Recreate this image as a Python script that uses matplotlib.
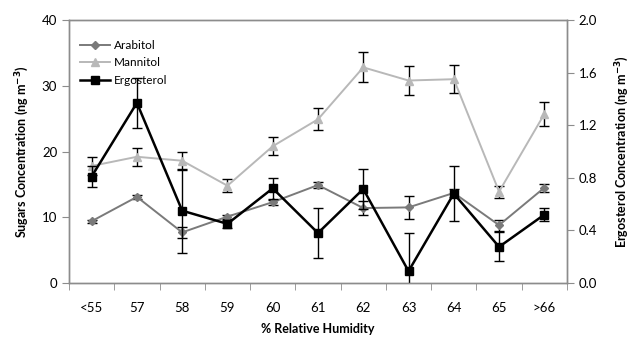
import numpy as np
import matplotlib.pyplot as plt

plt.rcParams['font.family'] = ['Lato', 'DejaVu Sans']

humidity = ['<55', '57', '58', '59', '60', '61', '62', '63', '64', '65', '>66']

# sugars, ng m-3 (left axis)
arabitol = [9.4, 13.1, 7.7, 10.1, 12.3, 14.9, 11.4, 11.5, 13.7, 8.8, 14.5]
arabitol_err = [0.2, 0.3, 0.8, 0.3, 0.4, 0.5, 1.1, 1.8, 0.6, 0.85, 0.6]
mannitol = [17.8, 19.2, 18.6, 14.8, 20.8, 24.9, 32.8, 30.8, 31.0, 13.9, 25.7]
mannitol_err = [1.3, 1.35, 1.4, 1.0, 1.4, 1.7, 2.3, 2.15, 2.15, 0.9, 1.8]

# ergosterol, ng m-3 (right axis)
ergosterol = [0.81, 1.37, 0.55, 0.45, 0.72, 0.38, 0.715, 0.09, 0.68, 0.275, 0.52]
ergosterol_err = [0.08, 0.19, 0.32, 0.03, 0.08, 0.19, 0.15, 0.29, 0.21, 0.11, 0.05]

x = np.arange(len(humidity))
axis_grey = '#8c8c8c'

fig = plt.figure(figsize=(6.29, 3.40), dpi=100)
ax = fig.add_axes([0.1097, 0.1676, 0.7917, 0.7735])
ax2 = ax.twinx()

eb = dict(ecolor='black', elinewidth=1, capsize=3.5, capthick=1)
h1 = ax.errorbar(x, arabitol, yerr=arabitol_err, color='#7a7a7a', lw=1.4,
                 marker='D', ms=4.5, **eb)
h2 = ax.errorbar(x, mannitol, yerr=mannitol_err, color='#b8b8b8', lw=1.4,
                 marker='^', ms=6, **eb)
h3 = ax2.errorbar(x, ergosterol, yerr=ergosterol_err, color='black', lw=1.8,
                  marker='s', ms=5.5, **eb)

ax.set_xlim(-0.5, len(humidity) - 0.5)
ax.set_ylim(0, 40)
ax2.set_ylim(0, 2.0)
ax.set_yticks([0, 10, 20, 30, 40])
ax2.set_yticks([0.0, 0.4, 0.8, 1.2, 1.6, 2.0])
ax2.set_yticklabels(['0.0', '0.4', '0.8', '1.2', '1.6', '2.0'])

ax.set_xticks(x)
ax.set_xticklabels(humidity)
ax.set_xticks(np.arange(len(humidity) + 1) - 0.5, minor=True)
ax.tick_params(axis='x', which='major', length=0, pad=14, labelsize=9.5)
ax.tick_params(axis='x', which='minor', length=5, color=axis_grey)
ax.tick_params(axis='y', length=5, color=axis_grey, labelsize=9.5)
ax2.tick_params(axis='y', length=5, color=axis_grey, labelsize=9.5)

for a in (ax, ax2):
    for s in a.spines.values():
        s.set_color(axis_grey)
        s.set_linewidth(1)

ax.set_xlabel('% Relative Humidity', fontsize=9, fontweight='bold', labelpad=6)
ax.set_ylabel('Sugars Concentration (ng m$^{\\mathbf{-3}}$)', fontsize=9,
              fontweight='bold', labelpad=8)
ax2.set_ylabel('Ergosterol Concentration (ng m$^{\\mathbf{-3}}$)', fontsize=9,
               fontweight='bold', labelpad=11)

# legend shows plain line + marker, no error bars
leg = ax.legend([h1[0], h2[0], h3[0]], ['Arabitol', 'Mannitol', 'Ergosterol'],
                loc='upper left', bbox_to_anchor=(0.0, 0.965), frameon=False,
                fontsize=8.5, handlelength=2.6, labelspacing=0.55,
                handletextpad=0.3)

fig.savefig('out.png', dpi=100)
